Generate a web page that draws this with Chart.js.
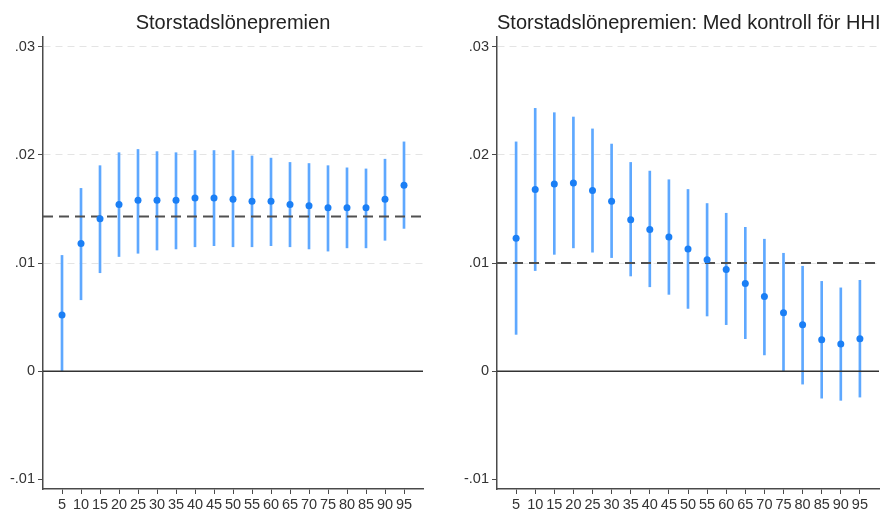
<!DOCTYPE html>
<html>
<head>
<meta charset="utf-8">
<script src="https://cdn.jsdelivr.net/npm/chart.js@4/dist/chart.umd.min.js"></script>
<style>
    body { margin: 0; background: #fff; }
    #wrap { position: relative; width: 886px; height: 511px; }
    .panel { position: absolute; top: 0; width: 443px; height: 511px; }
    .title {
        position: absolute; top: 12px; font: 20px "Liberation Sans", Arial, sans-serif;
        line-height: 20px; color: #222; text-align: center; white-space: nowrap;
    }
</style>
</head>
<body>
<div id="wrap">
    <div class="panel" style="left:0"><canvas id="left" width="443" height="511"></canvas></div>
    <div class="panel" style="left:443px"><canvas id="right" width="443" height="511"></canvas></div>
    <div class="title" style="left:43px;width:380px">Storstadslönepremien</div>
    <div class="title" style="left:497px;width:382px">Storstadslönepremien: Med kontroll för HHI</div>
</div>
<script>
// percentiles on the x axis
const pct = [5, 10, 15, 20, 25, 30, 35, 40, 45, 50, 55, 60, 65, 70, 75, 80, 85, 90, 95];
const yTicks = [-0.01, 0, 0.01, 0.02, 0.03];

// Panel 1: Storstadslönepremien
const est1 = [0.0052, 0.0118, 0.0141, 0.0154, 0.0158, 0.0158, 0.0158, 0.0160, 0.0160, 0.0159, 0.0157, 0.0157, 0.0154, 0.0153, 0.0151, 0.0151, 0.0151, 0.0159, 0.0172];
const lo1  = [0.0000, 0.0066, 0.0091, 0.0106, 0.0109, 0.0112, 0.0113, 0.0115, 0.0116, 0.0115, 0.0115, 0.0116, 0.0115, 0.0113, 0.0111, 0.0114, 0.0114, 0.0121, 0.0132];
const hi1  = [0.0107, 0.0169, 0.0190, 0.0202, 0.0205, 0.0203, 0.0202, 0.0204, 0.0204, 0.0204, 0.0199, 0.0197, 0.0193, 0.0192, 0.0190, 0.0188, 0.0187, 0.0196, 0.0212];
const mean1 = 0.0143;

// Panel 2: med kontroll för HHI
const est2 = [0.0123, 0.0168, 0.0173, 0.0174, 0.0167, 0.0157, 0.0140, 0.0131, 0.0124, 0.0113, 0.0103, 0.0094, 0.0081, 0.0069, 0.0054, 0.0043, 0.0029, 0.0025, 0.0030];
const lo2  = [0.0034, 0.0093, 0.0108, 0.0114, 0.0110, 0.0105, 0.0088, 0.0078, 0.0071, 0.0058, 0.0051, 0.0043, 0.0030, 0.0015, 0.0000, -0.0012, -0.0025, -0.0027, -0.0024];
const hi2  = [0.0212, 0.0243, 0.0239, 0.0235, 0.0224, 0.0210, 0.0193, 0.0185, 0.0177, 0.0168, 0.0155, 0.0146, 0.0133, 0.0122, 0.0109, 0.0097, 0.0083, 0.0077, 0.0084];
const mean2 = 0.0100;

const FONT = '"Liberation Sans", Arial, sans-serif';
const AXIS = '#4a4a4a';

function fmtTick(v) {
    if (v === 0) return '0';
    return (v < 0 ? '-' : '') + String(Math.abs(v)).replace(/^0\./, '.');
}

function renderPanel(canvasId, est, lo, hi, mean, padding) {
    const ctx = document.getElementById(canvasId).getContext('2d');
    return new Chart(ctx, {
        type: 'bar',
        data: {
            datasets: [
                {
                    type: 'scatter',
                    data: pct.map((p, i) => ({ x: p, y: est[i] })),
                    pointRadius: 3.5,
                    pointBackgroundColor: '#1b7ff5',
                    pointBorderWidth: 0,
                    order: 1
                },
                {
                    type: 'line',
                    data: [{ x: 0, y: mean }, { x: 100, y: mean }],
                    borderColor: '#505050',
                    borderWidth: 2,
                    borderDash: [10, 6],
                    pointRadius: 0,
                    order: 2
                },
                {
                    type: 'line',
                    data: [{ x: 0, y: 0 }, { x: 100, y: 0 }],
                    borderColor: '#333',
                    borderWidth: 1.5,
                    pointRadius: 0,
                    order: 2
                },
                {
                    // confidence intervals as floating bars
                    data: pct.map((p, i) => ({ x: p, y: [lo[i], hi[i]] })),
                    backgroundColor: '#5ea8ff',
                    borderWidth: 0,
                    barThickness: 2,
                    order: 3
                }
            ]
        },
        options: {
            responsive: false,
            animation: false,
            layout: { padding: padding },
            plugins: { legend: { display: false }, tooltip: { enabled: false } },
            scales: {
                x: {
                    type: 'linear',
                    offset: false,
                    min: 0,
                    max: 100,
                    afterBuildTicks: axis => { axis.ticks = pct.map(v => ({ value: v })); },
                    afterFit: axis => { axis.height = 22; },
                    grid: { offset: false, drawOnChartArea: false, tickLength: 5, tickColor: AXIS },
                    border: { color: AXIS, width: 1.5 },
                    ticks: {
                        autoSkip: false, maxRotation: 0, padding: 2,
                        color: '#333', font: { family: FONT, size: 14.5 }
                    }
                },
                y: {
                    min: -0.0109,
                    max: 0.0309,
                    afterBuildTicks: axis => { axis.ticks = yTicks.map(v => ({ value: v })); },
                    afterFit: axis => { axis.width = 43; },
                    grid: {
                        color: c => (c.tick && c.tick.value > 0 ? '#e4e4e4' : 'rgba(0,0,0,0)'),
                        tickColor: AXIS,
                        tickLength: 5
                    },
                    border: { color: AXIS, width: 1.5, dash: [7, 5] },
                    ticks: {
                        padding: 3, color: '#333', font: { family: FONT, size: 14.5 },
                        callback: v => fmtTick(v)
                    }
                }
            }
        }
    });
}

renderPanel('left', est1, lo1, hi1, mean1, { top: 37, left: 0, right: 20, bottom: 0 });
renderPanel('right', est2, lo2, hi2, mean2, { top: 37, left: 11, right: 7, bottom: 0 });
</script>
</body>
</html>
